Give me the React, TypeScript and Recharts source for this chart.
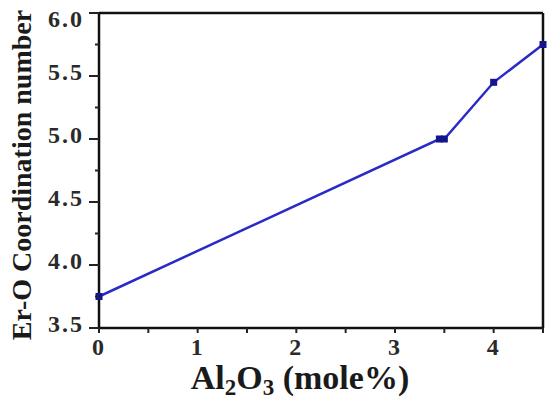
import { Label, Line, LineChart, ReferenceLine, XAxis, YAxis } from "recharts";

const alumina = [0, 3.45, 3.5, 4.0, 4.5];
const coordination = [3.75, 5.0, 5.0, 5.45, 5.75];
const xTicks = [0, 0.5, 1, 1.5, 2, 2.5, 3, 3.5, 4, 4.5];
const yTicks = [3.5, 3.75, 4.0, 4.25, 4.5, 4.75, 5.0, 5.25, 5.5, 5.75, 6.0];

const data = alumina.map((x, i) => ({ x, cn: coordination[i] }));

const serif = "'Liberation Serif', 'Times New Roman', serif";

function XTick({ x, y, payload }: any) {
  const v = payload.value as number;
  const major = Number.isInteger(v) && v < 4.5;
  return (
    <g>
      <line x1={x} x2={x} y1={y} y2={y + 5} stroke="#222" strokeWidth={2} />
      {major && (
        <text x={x - 1} y={y + 27} textAnchor="middle" fontFamily={serif} fontWeight="bold" fontSize={24} fill="#2a2a2a">
          {v}
        </text>
      )}
    </g>
  );
}

function YTick({ x, y, payload }: any) {
  const v = payload.value as number;
  const major = Number.isInteger(v * 2);
  return (
    <g>
      <line x1={x - (major ? 10 : 4)} x2={x} y1={y} y2={y} stroke="#222" strokeWidth={2} />
      {major && (
        <text
          x={x - 15}
          y={y + (v === 6 ? 14 : 4)}
          textAnchor="end"
          fontFamily={serif}
          fontWeight="bold"
          fontSize={24}
          letterSpacing={2}
          fill="#2a2a2a"
        >
          {v.toFixed(1)}
        </text>
      )}
    </g>
  );
}

function Marker({ cx, cy }: any) {
  if (cx == null || cy == null) return null;
  return <rect x={cx - 3.5} y={cy - 3.5} width={7} height={7} fill="#14148c" />;
}

export default function App() {
  return (
    <div style={{ position: "absolute", left: 0, top: 0, background: "#fff" }}>
      <LineChart width={550} height={405} data={data} margin={{ top: 13, right: 7, left: 40, bottom: 0 }}>
        <XAxis
          dataKey="x"
          type="number"
          domain={[0, 4.5]}
          ticks={xTicks}
          interval={0}
          height={77}
          tickSize={0}
          tickMargin={0}
          tickLine={false}
          tick={<XTick />}
          axisLine={{ stroke: "#111", strokeWidth: 2.5 }}
        >
          <Label
            content={() => (
              <text x={300} y={389} textAnchor="middle" fontFamily={serif} fontWeight="bold" fontSize={34} fill="#1a1a1a">
                Al<tspan fontSize={23} dy={6}>2</tspan>
                <tspan dy={-6}>O</tspan>
                <tspan fontSize={23} dy={6}>3</tspan>
                <tspan dy={-6}> (mole%)</tspan>
              </text>
            )}
          />
        </XAxis>
        <YAxis
          type="number"
          domain={[3.5, 6]}
          ticks={yTicks}
          interval={0}
          width={59}
          tickSize={0}
          tickMargin={0}
          tickLine={false}
          tick={<YTick />}
          axisLine={{ stroke: "#111", strokeWidth: 2.5 }}
        >
          <Label
            content={() => (
              <text
                transform="translate(31,175) rotate(-90)"
                textAnchor="middle"
                fontFamily={serif}
                fontWeight="bold"
                fontSize={28}
                fill="#1a1a1a"
              >
                Er-O Coordination number
              </text>
            )}
          />
        </YAxis>
        <ReferenceLine y={6} stroke="#111" strokeWidth={2.5} />
        <ReferenceLine x={4.5} stroke="#111" strokeWidth={2.5} />
        <Line
          type="linear"
          dataKey="cn"
          stroke="#2a2ac8"
          strokeWidth={2.5}
          dot={<Marker />}
          activeDot={false}
          isAnimationActive={false}
        />
      </LineChart>
    </div>
  );
}
